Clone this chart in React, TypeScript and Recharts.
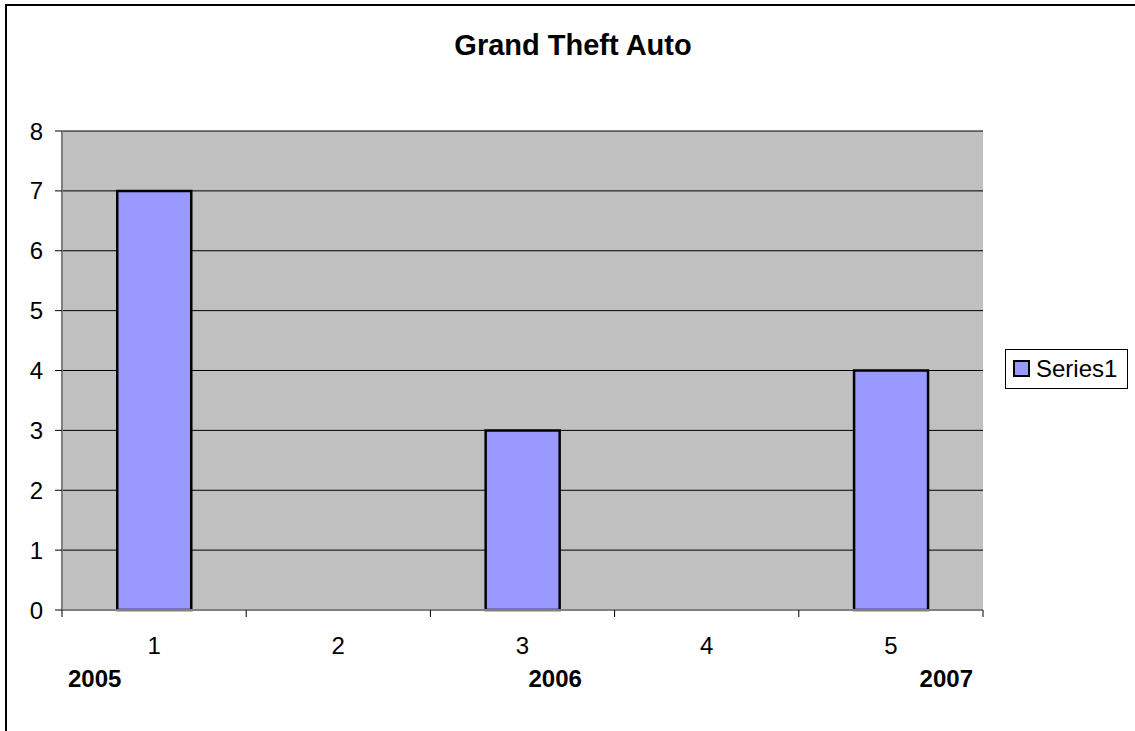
import React from 'react';
import { BarChart, Bar, XAxis, YAxis, CartesianGrid } from 'recharts';

const categories = ['1', '2', '3', '4', '5'];
const series1: (number | null)[] = [7, null, 3, null, 4];
const years = ['2005', '', '2006', '', '2007'];
const yTicks = [0, 1, 2, 3, 4, 5, 6, 7, 8];
const seriesName = 'Series1';
const title = 'Grand Theft Auto';

const data = categories.map((c, i) => ({ cat: c, value: series1[i], year: years[i] }));

const FONT = '"Liberation Sans", Arial, sans-serif';
const HALF_BAND = 92.1;

const CategoryTick = (props: any) => {
  const { x, y, payload, index } = props;
  const year = years[index];
  let yearX = x;
  let anchor: 'start' | 'middle' | 'end' = 'middle';
  if (index === 0) {
    yearX = x - HALF_BAND + 6;
    anchor = 'start';
  } else if (index === categories.length - 1) {
    yearX = x + HALF_BAND - 10;
    anchor = 'end';
  } else if (year) {
    yearX = x + 6;
    anchor = 'start';
  }
  return (
    <g>
      <line x1={x - HALF_BAND} x2={x - HALF_BAND} y1={y} y2={y + 7} stroke="#000" strokeWidth={1} />
      {index === categories.length - 1 && (
        <line x1={x + HALF_BAND} x2={x + HALF_BAND} y1={y} y2={y + 7} stroke="#000" strokeWidth={1} />
      )}
      <text x={x} y={y + 43.5} textAnchor="middle" fontSize={24} fontFamily={FONT} fill="#000">
        {payload.value}
      </text>
      {year && (
        <text x={yearX} y={y + 77} textAnchor={anchor} fontSize={24} fontWeight="bold" fontFamily={FONT} fill="#000">
          {year}
        </text>
      )}
    </g>
  );
};

export default function App() {
  return (
    <div style={{ position: 'absolute', left: 0, top: 0, width: 1135, height: 731, overflow: 'hidden', background: '#fff' }}>
      <div
        style={{
          position: 'absolute',
          left: 5,
          top: 4,
          width: 1160,
          height: 760,
          border: '2px solid #000',
        }}
      />
      <div style={{ position: 'absolute', left: 0, top: 0 }}>
        <BarChart
          width={1135}
          height={731}
          data={data}
          margin={{ top: 131, right: 152, bottom: 0, left: 0 }}
          barCategoryGap="30%"
        >
          <CartesianGrid horizontal vertical={false} stroke="#000" strokeWidth={1} fill="#C0C0C0" fillOpacity={1} />
          <XAxis
            dataKey="cat"
            height={121}
            tickLine={false}
            tickSize={0}
            tickMargin={0}
            axisLine={{ stroke: '#808080', strokeWidth: 2 }}
            tick={<CategoryTick />}
            interval={0}
          />
          <XAxis
            xAxisId="top"
            orientation="top"
            type="number"
            domain={[0, 5]}
            height={0}
            tick={false}
            tickLine={false}
            axisLine={{ stroke: '#808080', strokeWidth: 2 }}
          />
          <YAxis
            width={62}
            domain={[0, 8]}
            ticks={yTicks}
            interval={0}
            tickSize={7}
            tickMargin={12}
            tickLine={{ stroke: '#000', strokeWidth: 1 }}
            axisLine={{ stroke: '#808080', strokeWidth: 2 }}
            tick={{ fontSize: 24, fontFamily: FONT, fill: '#000' }}
          />
          <YAxis
            yAxisId="right"
            orientation="right"
            width={0}
            domain={[0, 8]}
            tick={false}
            tickLine={false}
            axisLine={{ stroke: '#808080', strokeWidth: 2 }}
          />
          <Bar dataKey="value" name={seriesName} fill="#9999FF" stroke="#000" strokeWidth={2.5} isAnimationActive={false} />
        </BarChart>
      </div>
      <svg width={1135} height={731} style={{ position: 'absolute', left: 0, top: 0, pointerEvents: 'none' }}>
        <text x={573} y={55} textAnchor="middle" fontSize={29} fontWeight="bold" fontFamily={FONT} fill="#000">
          {title}
        </text>
        <rect x={1005.5} y={349.5} width={122} height={39} fill="#fff" stroke="#000" strokeWidth={1} />
        <rect x={1014} y={361} width={15} height={15} fill="#9999FF" stroke="#000" strokeWidth={2} />
        <text x={1036} y={377} fontSize={24} fontFamily={FONT} fill="#000">
          {seriesName}
        </text>
      </svg>
    </div>
  );
}
